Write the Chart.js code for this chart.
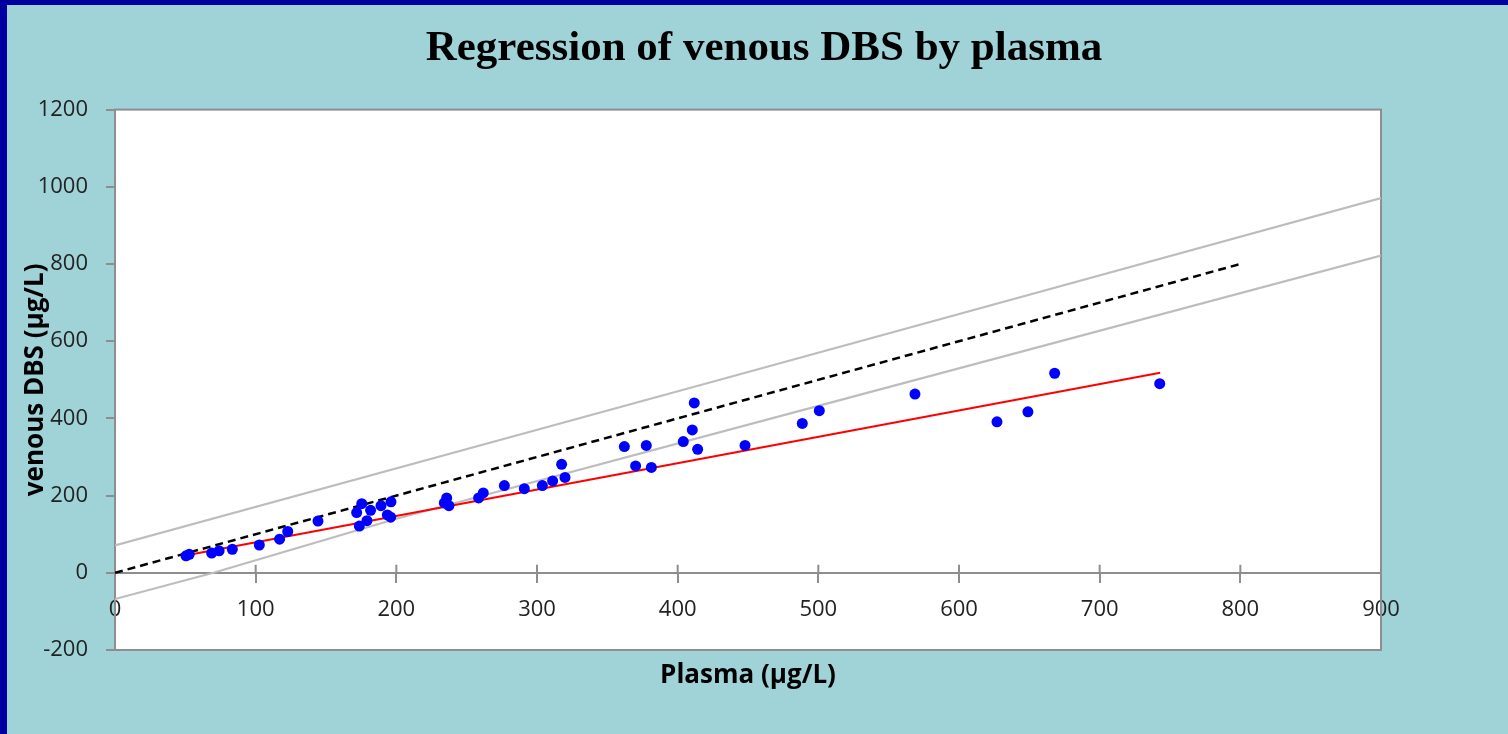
<!DOCTYPE html>
<html lang="en">
<head>
    <meta charset="UTF-8">
    <title>Regression of venous DBS by plasma</title>
    <script src="https://cdn.jsdelivr.net/npm/chart.js@4.4.1/dist/chart.umd.min.js"></script>
    <style>
        html, body {
            margin: 0;
            padding: 0;
            width: 1508px;
            height: 734px;
            overflow: hidden;
            background: #a0d3d8;
        }
        .frame-top {
            position: absolute;
            left: 0; top: 0;
            width: 1508px; height: 5px;
            background: #0000a0;
        }
        .frame-left {
            position: absolute;
            left: 0; top: 0;
            width: 7px; height: 734px;
            background: #0000a0;
        }
        .chart-box {
            position: absolute;
            left: 20px; top: 0;
            width: 1488px; height: 734px;
        }
    </style>
</head>
<body>
    <div class="frame-top"></div>
    <div class="frame-left"></div>
    <div class="chart-box">
        <canvas id="regChart"></canvas>
    </div>

    <script>
        // scatter points (plasma, venous DBS)
        const plasma = [50.5, 52.8, 68.7, 74, 83.4, 102.6, 117, 122.8, 144.3, 171.8,
                        175.4, 181.7, 173.7, 179.1, 189.1, 196.2, 193.6, 196, 235.8, 237.4,
                        234.1, 258.5, 261.8, 276.8, 291, 303.8, 311.1, 317.5, 319.9, 362.1,
                        370.1, 377.7, 381.3, 404, 410.4, 411.8, 414.2, 447.9, 488.6, 500.7,
                        568.7, 627, 649, 668, 742.7];
        const venousDbs = [44, 48, 51, 57, 61, 72, 87, 107, 134, 156,
                           179, 162, 121, 135, 174, 184, 150, 144, 194, 174,
                           181, 194, 207, 226, 218, 226, 238, 281, 247, 327,
                           277, 330, 273, 340, 370, 440, 320, 330, 387, 420,
                           463, 391, 417, 517, 490];

        // regression line and reference lines
        const regX = [50, 743];
        const regY = [45, 518];
        const identX = [0, 800];
        const identY = [0, 800];
        const upperX = [0, 430, 900];
        const upperY = [71, 500, 971];
        const lowerX = [0, 70, 200, 520, 900];
        const lowerY = [-68, 0, 140, 452, 822];

        const xTicks = { min: 0, max: 900, step: 100 };
        const yTicks = { min: -200, max: 1200, step: 200 };

        const axisGrey = '#8e8e8e';

        function pairs(xs, ys) {
            return xs.map((x, i) => ({ x: x, y: ys[i] }));
        }

        // white plot area with grey frame, and the upper half of the crossing x ticks
        const plotFrame = {
            id: 'plotFrame',
            beforeDatasetsDraw(chart) {
                const { ctx, chartArea: a } = chart;
                ctx.save();
                ctx.strokeStyle = axisGrey;
                ctx.lineWidth = 2;
                ctx.strokeRect(a.left, a.top, a.right - a.left, a.bottom - a.top);
                const xs = chart.scales.x;
                const y0 = chart.scales.y.getPixelForValue(0);
                xs.ticks.forEach(t => {
                    const px = xs.getPixelForValue(t.value);
                    ctx.beginPath();
                    ctx.moveTo(px, y0 - 8);
                    ctx.lineTo(px, y0);
                    ctx.stroke();
                });
                ctx.restore();
            },
            beforeDraw(chart) {
                const { ctx, chartArea: a } = chart;
                ctx.save();
                ctx.fillStyle = '#ffffff';
                ctx.fillRect(a.left, a.top, a.right - a.left, a.bottom - a.top);
                ctx.restore();
            }
        };

        Chart.defaults.font.family = "'Open Sans', sans-serif";

        const ctx = document.getElementById('regChart').getContext('2d');
        const regChart = new Chart(ctx, {
            type: 'scatter',
            data: {
                datasets: [
                    {
                        label: 'Samples',
                        data: pairs(plasma, venousDbs),
                        backgroundColor: '#0000ff',
                        borderWidth: 0,
                        pointRadius: 5.5,
                        order: 0
                    },
                    {
                        label: 'Regression',
                        data: pairs(regX, regY),
                        showLine: true,
                        borderColor: '#ff0000',
                        borderWidth: 2,
                        pointRadius: 0,
                        order: 1
                    },
                    {
                        label: 'Identity',
                        data: pairs(identX, identY),
                        showLine: true,
                        borderColor: '#000000',
                        borderWidth: 2.5,
                        borderDash: [8, 5],
                        pointRadius: 0,
                        order: 2
                    },
                    {
                        label: 'Upper',
                        data: pairs(upperX, upperY),
                        showLine: true,
                        borderColor: '#bdbdbd',
                        borderWidth: 2.2,
                        pointRadius: 0,
                        order: 3
                    },
                    {
                        label: 'Lower',
                        data: pairs(lowerX, lowerY),
                        showLine: true,
                        borderColor: '#bdbdbd',
                        borderWidth: 2.2,
                        pointRadius: 0,
                        order: 3
                    }
                ]
            },
            options: {
                responsive: true,
                maintainAspectRatio: false,
                animation: false,
                layout: { padding: 0 },
                plugins: {
                    legend: { display: false },
                    tooltip: { enabled: false },
                    title: {
                        display: true,
                        text: 'Regression of venous DBS by plasma',
                        color: '#000000',
                        font: { family: "'Liberation Serif', serif", size: 43, weight: 'bold' },
                        padding: { top: 23, bottom: 35 }
                    }
                },
                scales: {
                    x: {
                        type: 'linear',
                        position: { y: 0 },
                        min: xTicks.min,
                        max: xTicks.max,
                        afterFit(s) { s.height = 0; },
                        ticks: {
                            stepSize: xTicks.step,
                            color: '#222222',
                            font: { size: 22 },
                            padding: 15,
                            maxRotation: 0
                        },
                        grid: {
                            drawOnChartArea: false,
                            drawTicks: true,
                            tickLength: 9,
                            color: axisGrey,
                            lineWidth: 2
                        },
                        border: { display: true, color: axisGrey, width: 2 }
                    },
                    xt: {
                        type: 'linear',
                        position: 'bottom',
                        min: xTicks.min,
                        max: xTicks.max,
                        afterFit(s) { s.height = 84; },
                        ticks: { display: false },
                        grid: { display: false },
                        border: { display: false },
                        title: {
                            display: true,
                            text: 'Plasma (µg/L)',
                            color: '#000000',
                            font: { size: 26, weight: 'bold' },
                            padding: { top: 0, bottom: 43 }
                        }
                    },
                    y: {
                        type: 'linear',
                        position: 'left',
                        min: yTicks.min,
                        max: yTicks.max,
                        afterFit(s) { s.width = 95; },
                        ticks: {
                            stepSize: yTicks.step,
                            color: '#222222',
                            font: { size: 22 },
                            padding: 18,
                            callback: v => String(v)
                        },
                        grid: {
                            drawOnChartArea: false,
                            drawTicks: true,
                            tickLength: 9,
                            color: axisGrey,
                            lineWidth: 2
                        },
                        border: { display: true, color: axisGrey, width: 2 },
                        title: {
                            display: true,
                            text: 'venous DBS (µg/L)',
                            color: '#000000',
                            font: { size: 26, weight: 'bold' },
                            padding: { top: 0, bottom: 0 }
                        }
                    },
                    // empty right axis, only keeps the space right of the plot
                    yr: {
                        type: 'linear',
                        position: 'right',
                        min: yTicks.min,
                        max: yTicks.max,
                        afterFit(s) { s.width = 127; },
                        ticks: { display: false },
                        grid: { display: false },
                        border: { display: false }
                    }
                }
            },
            plugins: [plotFrame]
        });
    </script>
</body>
</html>
